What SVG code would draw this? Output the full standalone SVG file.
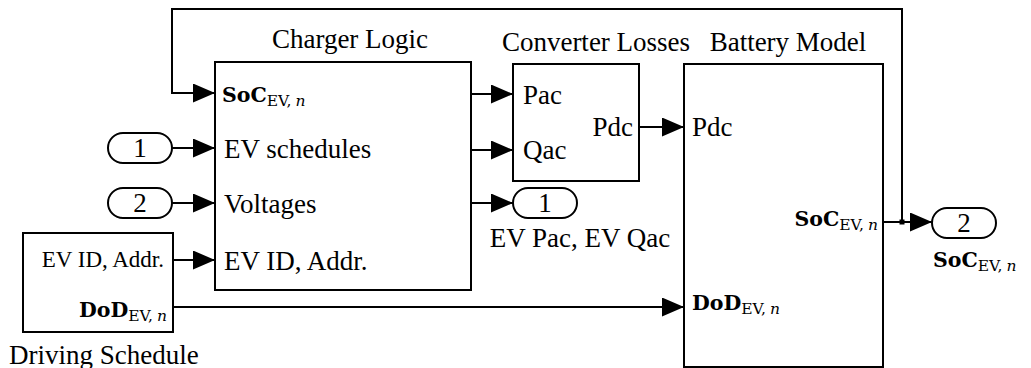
<svg xmlns="http://www.w3.org/2000/svg" width="1031" height="368" viewBox="0 0 1031 368">
<style>
.box{fill:#fff;stroke:#000;stroke-width:2}
.port{fill:#fff;stroke:#000;stroke-width:2}
.w{fill:none;stroke:#000;stroke-width:2}
.t{font-family:"Liberation Serif",serif;font-size:27px;fill:#000}
.ts{font-family:"Liberation Serif",serif;font-size:23px;fill:#000}
.m{font-family:"DejaVu Serif",serif;font-weight:bold;font-size:20.5px;fill:#000}
.sub{font-family:"DejaVu Serif",serif;font-size:15.5px;font-weight:normal}
.it{font-style:italic}
</style>
<defs>
<marker id="ah" markerUnits="userSpaceOnUse" markerWidth="22" markerHeight="19" refX="22" refY="9.5" orient="auto">
<path d="M0,0 L22,9.5 L0,19 Z" fill="#000"/>
</marker>
</defs>
<g id="connectors">
<polyline class="w" points="902,222 902,9 172,9 172,93 215,93" marker-end="url(#ah)"/>
<line class="w" x1="172" y1="148" x2="215" y2="148" marker-end="url(#ah)"/>
<line class="w" x1="172" y1="203" x2="215" y2="203" marker-end="url(#ah)"/>
<line class="w" x1="173" y1="260" x2="215" y2="260" marker-end="url(#ah)"/>
<line class="w" x1="471" y1="94" x2="513" y2="94" marker-end="url(#ah)"/>
<line class="w" x1="471" y1="150" x2="513" y2="150" marker-end="url(#ah)"/>
<line class="w" x1="471" y1="203" x2="513" y2="203" marker-end="url(#ah)"/>
<line class="w" x1="639" y1="127" x2="684" y2="127" marker-end="url(#ah)"/>
<line class="w" x1="173" y1="307" x2="684" y2="307" marker-end="url(#ah)"/>
<line class="w" x1="883" y1="222" x2="932" y2="222" marker-end="url(#ah)"/>
<rect x="899.5" y="219.5" width="5" height="5" fill="#000"/>
</g>
<g id="charger-logic">
<rect class="box" x="215" y="62" width="256" height="228"/>
<text class="t" x="350" y="48" text-anchor="middle">Charger Logic</text>
<text class="m" x="222" y="102">SoC<tspan class="sub" dy="4">EV,<tspan class="it" dx="4">n</tspan></tspan></text>
<text class="t" x="224" y="158">EV schedules</text>
<text class="t" x="224" y="213">Voltages</text>
<text class="t" x="224" y="270">EV ID, Addr.</text>
</g>
<g id="converter-losses">
<rect class="box" x="513" y="64" width="126" height="117"/>
<text class="t" x="596" y="51" text-anchor="middle">Converter Losses</text>
<text class="t" x="523" y="104">Pac</text>
<text class="t" x="523" y="159">Qac</text>
<text class="t" x="633" y="136" text-anchor="end">Pdc</text>
</g>
<g id="battery-model">
<rect class="box" x="684" y="64" width="199" height="303"/>
<text class="t" x="788" y="51" text-anchor="middle">Battery Model</text>
<text class="t" x="692" y="136">Pdc</text>
<text class="m" x="878" y="226" text-anchor="end">SoC<tspan class="sub" dy="4">EV,<tspan class="it" dx="4">n</tspan></tspan></text>
<text class="m" x="692" y="310">DoD<tspan class="sub" dy="4">EV,<tspan class="it" dx="4">n</tspan></tspan></text>
</g>
<g id="driving-schedule">
<rect class="box" x="23" y="233" width="150" height="99"/>
<text class="ts" x="164" y="267" text-anchor="end">EV ID, Addr.</text>
<text class="m" x="167" y="317" text-anchor="end">DoD<tspan class="sub" dy="4">EV,<tspan class="it" dx="4">n</tspan></tspan></text>
<text class="t" x="9" y="364">Driving Schedule</text>
</g>
<g id="in1">
<rect class="port" x="108" y="133" width="64" height="30" rx="15"/>
<text class="t" x="140" y="157" text-anchor="middle">1</text>
</g>
<g id="in2">
<rect class="port" x="108" y="188" width="64" height="30" rx="15"/>
<text class="t" x="140" y="212" text-anchor="middle">2</text>
</g>
<g id="out1">
<rect class="port" x="513" y="188" width="64" height="30" rx="15"/>
<text class="t" x="545" y="212" text-anchor="middle">1</text>
<text class="t" x="580" y="247" text-anchor="middle">EV Pac, EV Qac</text>
</g>
<g id="out2">
<rect class="port" x="932" y="208" width="64" height="30" rx="15"/>
<text class="t" x="964" y="232" text-anchor="middle">2</text>
<text class="m" x="933" y="267">SoC<tspan class="sub" dy="4">EV,<tspan class="it" dx="4">n</tspan></tspan></text>
</g>
</svg>
